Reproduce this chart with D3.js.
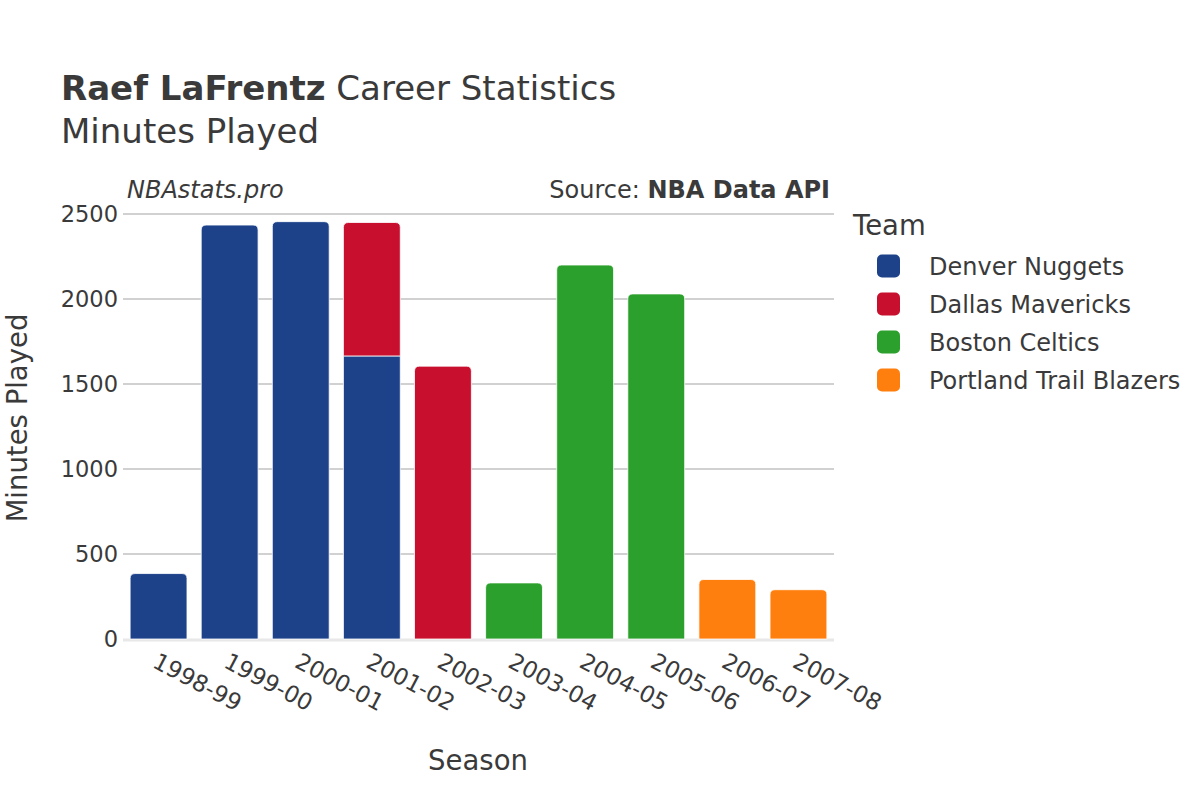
<!DOCTYPE html>
<html><head><meta charset="utf-8">
<script src="https://cdn.jsdelivr.net/npm/d3@7"></script>
<style>body{margin:0;background:#fff}svg{font-family:"DejaVu Sans",sans-serif}</style>
</head><body><svg id="c" width="1200" height="800"></svg>
<script>
const seasons = ["1998-99","1999-00","2000-01","2001-02","2002-03","2003-04","2004-05","2005-06","2006-07","2007-08"];
const teams = ["Denver Nuggets","Dallas Mavericks","Boston Celtics","Portland Trail Blazers"];
const teamColors = ["#1d428a","#c8102e","#2ca02c","#ff7f0e"];
const denver   = [385, 2435, 2455, 1665, 0, 0, 0, 0, 0, 0];
const dallas   = [0, 0, 0, 785, 1605, 0, 0, 0, 0, 0];
const boston   = [0, 0, 0, 0, 0, 330, 2200, 2030, 0, 0];
const portland = [0, 0, 0, 0, 0, 0, 0, 0, 350, 290];
const yTicks = [0, 500, 1000, 1500, 2000, 2500];

const series = [denver, dallas, boston, portland];
const svg = d3.select("#c");
const M = {l:123, r:834, t:214, b:639};
const x = d3.scaleBand().domain(seasons).range([M.l, M.r]).paddingInner(0.2).paddingOuter(0.1);
const y = d3.scaleLinear().domain([0, 2500]).range([M.b, M.t]);
const FG = "#3a3a3a";

// grid
svg.append("g").selectAll("line").data(yTicks.filter(d=>d>0)).join("line")
  .attr("x1", M.l).attr("x2", M.r).attr("y1", d=>y(d)).attr("y2", d=>y(d))
  .attr("stroke", "#a3a3a3").attr("stroke-width", 1);
svg.append("line").attr("x1", M.l).attr("x2", M.r).attr("y1", y(0)+1).attr("y2", y(0)+1)
  .attr("stroke", "#e8e8e8").attr("stroke-width", 3);

// stacked bars
const rows = seasons.map((s,i)=>{ const o={season:s}; teams.forEach((t,k)=>o[t]=series[k][i]); return o; });
const stack = d3.stack().keys(teams)(rows);
const topKey = seasons.map((s,i)=>{ let k=-1; teams.forEach((t,j)=>{ if(series[j][i]>0) k=j; }); return k; });
function barPath(x0, w, y0, y1, round){
  const r = round ? Math.min(5, (y0-y1)) : 0;
  return `M${x0},${y0}L${x0},${y1+r}Q${x0},${y1} ${x0+r},${y1}L${x0+w-r},${y1}Q${x0+w},${y1} ${x0+w},${y1+r}L${x0+w},${y0}Z`;
}
stack.forEach((layer, k)=>{
  svg.append("g").selectAll("path").data(layer.map((d,i)=>({d, i}))
    .filter(o=>o.d[1]-o.d[0]>0)).join("path")
    .attr("d", o=>barPath(x(seasons[o.i]), x.bandwidth(), y(o.d[0]), y(o.d[1]), topKey[o.i]===k))
    .attr("fill", teamColors[k])
    .attr("stroke", "#fff").attr("stroke-width", 0.8);
});

// y axis labels
svg.append("g").selectAll("text").data(yTicks).join("text")
  .attr("x", M.l-5).attr("y", d=>y(d)).attr("dy", "0.36em").attr("text-anchor", "end")
  .attr("font-size", 22.5).attr("fill", FG).text(d=>d);

// x axis labels
svg.append("g").selectAll("text").data(seasons).join("text")
  .attr("transform", d=>`translate(${x(d)+x.bandwidth()/2+1},${M.b+12}) rotate(28)`)
  .attr("dy", "0.76em").attr("text-anchor", "start")
  .attr("font-size", 23).attr("fill", FG).text(d=>d);

// titles
const title = svg.append("text").attr("x", 61).attr("y", 100).attr("font-size", 34).attr("fill", FG);
title.append("tspan").attr("font-weight", "bold").text("Raef LaFrentz");
title.append("tspan").text(" Career Statistics");
svg.append("text").attr("x", 61).attr("y", 143).attr("font-size", 34).attr("fill", FG).text("Minutes Played");

svg.append("text").attr("x", 127).attr("y", 198).attr("font-size", 24).attr("font-style", "italic").attr("fill", FG).text("NBAstats.pro");
const src = svg.append("text").attr("x", 830).attr("y", 198).attr("font-size", 24).attr("text-anchor", "end").attr("fill", FG);
src.append("tspan").text("Source: ");
src.append("tspan").attr("font-weight", "bold").text("NBA Data API");

svg.append("text").attr("transform", `translate(27,418) rotate(-90)`)
  .attr("text-anchor", "middle").attr("font-size", 27.5).attr("fill", FG).text("Minutes Played");
svg.append("text").attr("x", 478).attr("y", 770).attr("text-anchor", "middle")
  .attr("font-size", 27.5).attr("fill", FG).text("Season");

// legend
svg.append("text").attr("x", 853).attr("y", 235).attr("font-size", 27.5).attr("fill", FG).text("Team");
const lg = svg.append("g").selectAll("g").data(teams).join("g")
  .attr("transform", (d,i)=>`translate(877,${266+i*38})`);
lg.append("rect").attr("x", 0).attr("y", -11.5).attr("width", 23).attr("height", 23).attr("rx", 5)
  .attr("fill", (d,i)=>teamColors[i]);
lg.append("text").attr("x", 52).attr("dy", "0.36em").attr("font-size", 24).attr("fill", FG).text(d=>d);
</script></body></html>
